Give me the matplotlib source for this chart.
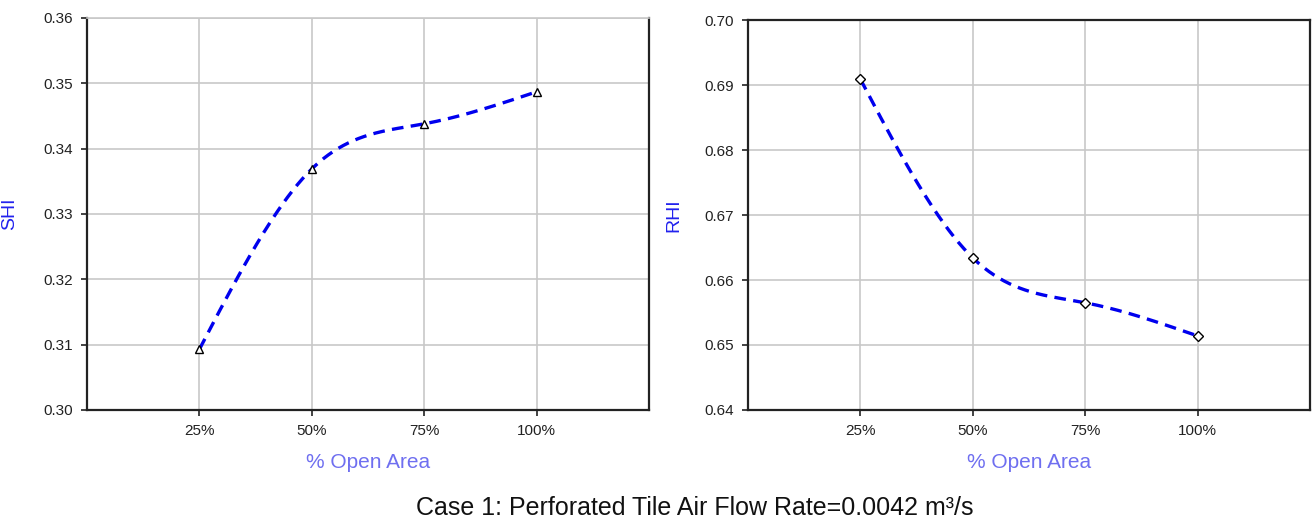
import numpy as np
import matplotlib.pyplot as plt

plt.rcParams['font.family'] = ['Liberation Sans', 'DejaVu Sans']

# data
labels = ['25%', '50%', '75%', '100%']
shi = [0.3093, 0.3369, 0.3438, 0.3487]
rhi = [0.6909, 0.6634, 0.6565, 0.6514]


def smooth(xs, ys, n=200):
    # natural cubic spline through the points, only for drawing the curve
    xs = np.asarray(xs, float)
    ys = np.asarray(ys, float)
    k = len(xs)
    h = np.diff(xs)
    A = np.zeros((k, k))
    b = np.zeros(k)
    A[0, 0] = A[-1, -1] = 1
    for i in range(1, k - 1):
        A[i, i - 1] = h[i - 1]
        A[i, i] = 2 * (h[i - 1] + h[i])
        A[i, i + 1] = h[i]
        b[i] = 6 * ((ys[i + 1] - ys[i]) / h[i] - (ys[i] - ys[i - 1]) / h[i - 1])
    m = np.linalg.solve(A, b)
    xx = np.linspace(xs[0], xs[-1], n)
    yy = np.empty_like(xx)
    for j, x in enumerate(xx):
        i = min(np.searchsorted(xs, x, side='right') - 1, k - 2)
        t = x - xs[i]
        u = xs[i + 1] - x
        yy[j] = (m[i] * u ** 3 + m[i + 1] * t ** 3) / (6 * h[i]) \
            + (ys[i] / h[i] - m[i] * h[i] / 6) * u \
            + (ys[i + 1] / h[i] - m[i + 1] * h[i] / 6) * t
    return xx, yy


fig = plt.figure(figsize=(13.13, 5.22), dpi=100)
ax1 = fig.add_axes([0.0663, 0.2146, 0.428, 0.751])
ax2 = fig.add_axes([0.5697, 0.2146, 0.428, 0.747])

x = np.arange(1, len(labels) + 1)

panels = [
    (ax1, shi, 'SHI', '^', (0.30, 0.36), False, -0.123),
    (ax2, rhi, 'RHI', 'D', (0.64, 0.70), True, -0.117),
]

for ax, vals, name, mk, ylim, top_black, lx in panels:
    xx, yy = smooth(x, vals)
    ax.plot(xx, yy, color='#0000ee', lw=2.4, ls=(0, (3.5, 2.2)), zorder=3)
    ax.plot(x, vals, ls='none', marker=mk, ms=6 if mk == '^' else 5,
            mfc='white', mec='black', mew=1.0, zorder=4)

    ax.set_xlim(0, 5)
    ax.set_ylim(*ylim)
    ax.set_yticks(np.round(np.arange(ylim[0], ylim[1] + 0.001, 0.01), 2))
    ax.yaxis.set_major_formatter(plt.FormatStrFormatter('%.2f'))
    ax.set_xticks(x)
    ax.set_xticklabels(labels)

    ax.grid(True, color='#c8c8c8', lw=1.2)
    ax.set_axisbelow(True)
    for s in ['left', 'bottom', 'right']:
        ax.spines[s].set_color('#222222')
        ax.spines[s].set_linewidth(1.6)
    if top_black:
        ax.spines['top'].set_color('#222222')
        ax.spines['top'].set_linewidth(1.6)
    else:
        ax.spines['top'].set_color('#c8c8c8')
        ax.spines['top'].set_linewidth(1.2)

    ax.tick_params(direction='out', length=4, width=1.2, labelsize=11,
                   colors='#222222', pad=6)
    ax.set_ylabel(name, color='#2222ee', fontsize=14)
    ax.yaxis.set_label_coords(lx, 0.5)
    ax.set_xlabel('% Open Area', color='#6f6ff0', fontsize=15, labelpad=11)

fig.text(0.529, 0.027, 'Case 1: Perforated Tile Air Flow Rate=0.0042 m³/s',
         ha='center', va='center', fontsize=18, color='#111111')

fig.savefig('out.png', dpi=100)
